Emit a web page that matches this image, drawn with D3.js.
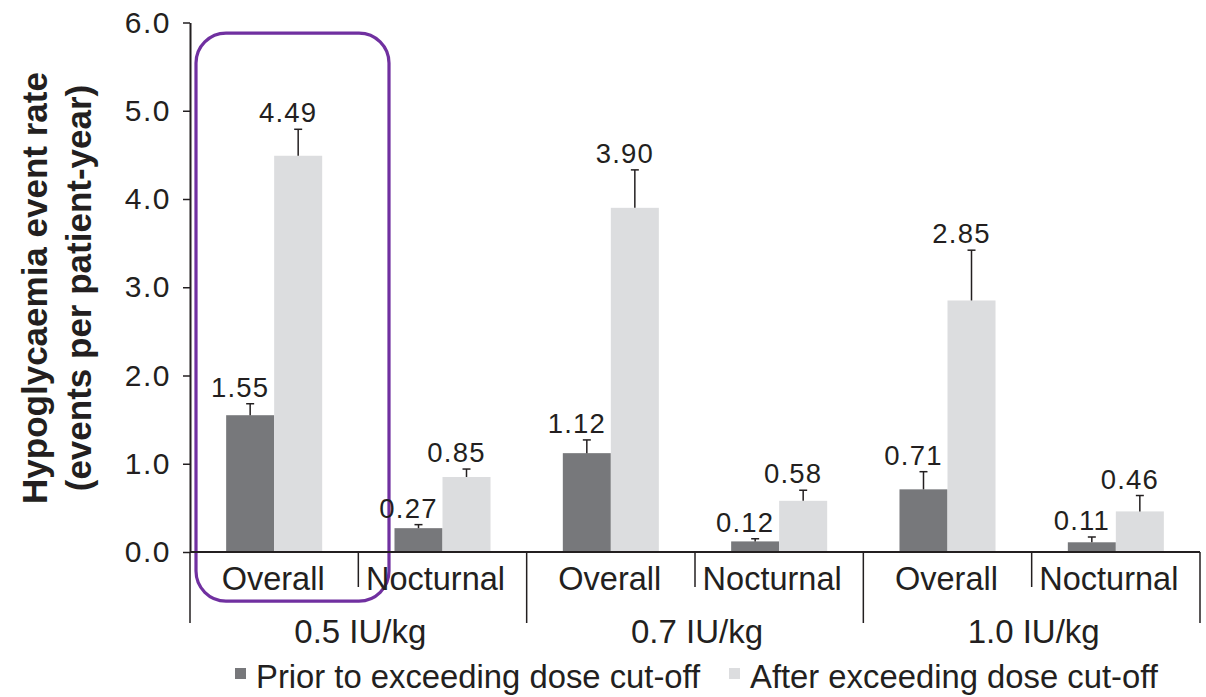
<!DOCTYPE html>
<html>
<head>
<meta charset="utf-8">
<script src="https://cdn.jsdelivr.net/npm/d3@7"></script>
<style>
  body { margin: 0; background: #fff; }
  svg { display: block; font-family: "Liberation Sans", Arial, sans-serif; }
</style>
</head>
<body>
<div id="chart"></div>
<script>
const groups = ["0.5 IU/kg", "0.7 IU/kg", "1.0 IU/kg"];
const types = ["Overall", "Nocturnal"];
const series = ["Prior to exceeding dose cut-off", "After exceeding dose cut-off"];

// one value per group/type, in order: 0.5 Overall, 0.5 Nocturnal, 0.7 Overall, ...
const priorValues = [1.55, 0.27, 1.12, 0.12, 0.71, 0.11];
const afterValues = [4.49, 0.85, 3.90, 0.58, 2.85, 0.46];
// top of the error bars
const priorUpper = [1.68, 0.31, 1.27, 0.15, 0.91, 0.17];
const afterUpper = [4.79, 0.94, 4.33, 0.70, 3.42, 0.64];

const yTicks = [0, 1, 2, 3, 4, 5, 6];

const width = 1206;
const height = 697;
const margin = { top: 22.5, right: 6, bottom: 145, left: 190 };
const ink = "#231f20";
const color = d3.scaleOrdinal().domain(series).range(["#77787b", "#dcdddf"]);

const svg = d3.select("#chart")
  .append("svg")
  .attr("width", width)
  .attr("height", height);

const y = d3.scaleLinear()
  .domain([0, 6])
  .range([height - margin.bottom, margin.top]);

const xGroup = d3.scaleBand()
  .domain(groups)
  .range([margin.left, width - margin.right]);

const xType = d3.scaleBand()
  .domain(types)
  .range([0, xGroup.bandwidth()]);

const xSeries = d3.scaleBand()
  .domain(series)
  .range([0, xType.bandwidth()])
  .paddingOuter(0.753);

const rows = [];
groups.forEach((g, gi) => {
  types.forEach((t, ti) => {
    const i = gi * types.length + ti;
    rows.push({ group: g, type: t, series: series[0], value: priorValues[i], upper: priorUpper[i] });
    rows.push({ group: g, type: t, series: series[1], value: afterValues[i], upper: afterUpper[i] });
  });
});
const xPos = (d) => xGroup(d.group) + xType(d.type) + xSeries(d.series);

// purple highlight box around 0.5 IU/kg overall
const hx = xGroup(groups[0]) + xType(types[0]);
svg.append("rect")
  .attr("x", hx + 6)
  .attr("y", y(5.88))
  .attr("width", 193)
  .attr("height", 568)
  .attr("rx", 30)
  .attr("fill", "none")
  .attr("stroke", "#7030a0")
  .attr("stroke-width", 3.2);

// bars
svg.append("g")
  .selectAll("rect")
  .data(rows)
  .join("rect")
  .attr("x", xPos)
  .attr("y", (d) => y(d.value))
  .attr("width", xSeries.bandwidth())
  .attr("height", (d) => y(0) - y(d.value))
  .attr("fill", (d) => color(d.series));

// error bars (upper only)
const err = svg.append("g")
  .attr("stroke", ink)
  .attr("stroke-width", 1.5)
  .selectAll("g")
  .data(rows)
  .join("g")
  .attr("transform", (d) => `translate(${xPos(d) + xSeries.bandwidth() / 2},0)`);
err.append("line")
  .attr("y1", (d) => y(d.value))
  .attr("y2", (d) => y(d.upper));
err.append("line")
  .attr("x1", -4)
  .attr("x2", 4)
  .attr("y1", (d) => y(d.upper))
  .attr("y2", (d) => y(d.upper));

// value labels
svg.append("g")
  .attr("fill", ink)
  .attr("font-size", 27.5)
  .attr("letter-spacing", 1.2)
  .attr("text-anchor", "middle")
  .selectAll("text")
  .data(rows)
  .join("text")
  .attr("x", (d) => xPos(d) + xSeries.bandwidth() / 2 - 10)
  .attr("y", (d) => y(d.upper) - 7)
  .text((d) => d.value.toFixed(2));

// y axis
const yAxis = svg.append("g")
  .attr("transform", `translate(${margin.left},0)`)
  .call(d3.axisLeft(y).tickValues(yTicks).tickFormat(d3.format(".1f"))
    .tickSize(7).tickSizeOuter(0).tickPadding(12));
yAxis.select(".domain").attr("stroke", ink).attr("stroke-width", 2);
yAxis.selectAll(".tick line").attr("stroke", ink).attr("stroke-width", 1.5);
yAxis.selectAll(".tick text")
  .attr("fill", ink)
  .attr("font-size", 30)
  .attr("letter-spacing", 1.5)
  .attr("font-family", "Liberation Sans, Arial, sans-serif");

// x axis line
const y0 = y(0);
svg.append("line")
  .attr("x1", margin.left)
  .attr("x2", width - margin.right)
  .attr("y1", y0)
  .attr("y2", y0)
  .attr("stroke", ink)
  .attr("stroke-width", 2);

// separators: long at group edges, short between types
const groupEdges = groups.map((g) => xGroup(g)).concat([xGroup(groups[groups.length - 1]) + xGroup.bandwidth()]);
svg.append("g")
  .attr("stroke", ink)
  .attr("stroke-width", 1.5)
  .selectAll("line")
  .data(groupEdges)
  .join("line")
  .attr("x1", (d) => d)
  .attr("x2", (d) => d)
  .attr("y1", y0)
  .attr("y2", y0 + 71);
svg.append("g")
  .attr("stroke", ink)
  .attr("stroke-width", 1.5)
  .selectAll("line")
  .data(groups)
  .join("line")
  .attr("x1", (g) => xGroup(g) + xType(types[1]))
  .attr("x2", (g) => xGroup(g) + xType(types[1]))
  .attr("y1", y0)
  .attr("y2", y0 + 35);

// type labels (Nocturnal sits a little left of centre in the original)
const typeShift = { Overall: -1, Nocturnal: -7 };
const typeLabels = [];
groups.forEach((g) => types.forEach((t) => typeLabels.push({ g, t })));
svg.append("g")
  .attr("fill", ink)
  .attr("font-size", 32.5)
  .attr("text-anchor", "middle")
  .selectAll("text")
  .data(typeLabels)
  .join("text")
  .attr("x", (d) => xGroup(d.g) + xType(d.t) + xType.bandwidth() / 2 + typeShift[d.t])
  .attr("y", y0 + 38)
  .text((d) => d.t);

// group labels
svg.append("g")
  .attr("fill", ink)
  .attr("font-size", 33)
  .attr("text-anchor", "middle")
  .selectAll("text")
  .data(groups)
  .join("text")
  .attr("x", (g) => xGroup(g) + xGroup.bandwidth() / 2 + 2)
  .attr("y", y0 + 91)
  .text((g) => g);

// y axis title
const title = svg.append("text")
  .attr("transform", `translate(0,288) rotate(-90)`)
  .attr("fill", ink)
  .attr("font-size", 35)
  .attr("font-weight", "bold")
  .attr("text-anchor", "middle");
title.append("tspan").attr("x", 0).attr("y", 47).text("Hypoglycaemia event rate");
title.append("tspan").attr("x", 0).attr("y", 91).text("(events per patient-year)");

// legend
const legendX = [235, 729];
const legend = svg.append("g")
  .selectAll("g")
  .data(series)
  .join("g")
  .attr("transform", (d, i) => `translate(${legendX[i]},${height - 9})`);
legend.append("rect")
  .attr("y", -20)
  .attr("width", 11)
  .attr("height", 11)
  .attr("fill", (d) => color(d));
legend.append("text")
  .attr("x", 21)
  .attr("fill", ink)
  .attr("font-size", 32.8)
  .text((d) => d);
</script>
</body>
</html>
